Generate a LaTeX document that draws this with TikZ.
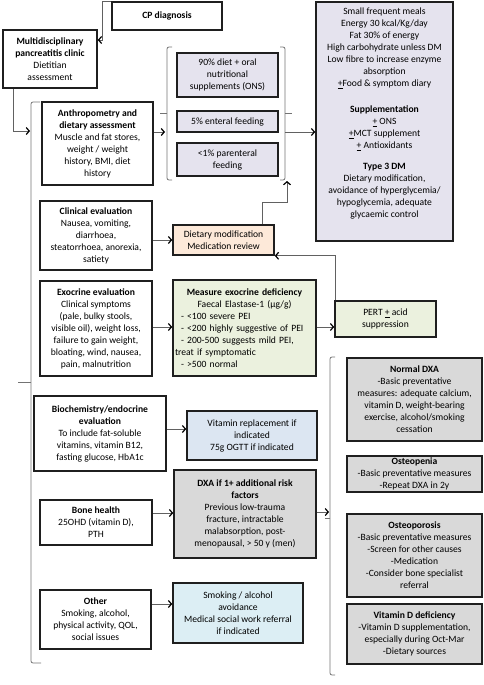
\documentclass[tikz,border=0pt]{standalone}
\usepackage{fontspec}
\setmainfont{Carlito}
\usetikzlibrary{arrows.meta}

\definecolor{lavfill}{HTML}{E5E3EE}
\definecolor{peachfill}{HTML}{FDE9D9}
\definecolor{greenfill}{HTML}{EBF1DE}
\definecolor{bluefill}{HTML}{DCE6F2}
\definecolor{greyfill}{HTML}{D9D9D9}
\definecolor{skyfill}{HTML}{DCEEF4}

\begin{document}
\begin{tikzpicture}[x=1pt,y=-1pt,
    panel/.style={draw=black!88, line width=1.6pt, align=center, inner sep=1.5pt,
        font=\fontsize{9.6}{12}\selectfont},
    link/.style={draw=black!62, line width=0.9pt,
        -{Straight Barb[length=3pt,width=7pt,line width=1.2pt,color=black]}},
    brk/.style={draw=black!55, line width=0.8pt, rounded corners=2pt}]

    % Fix the page to the size of the reference
    \useasboundingbox (0,0) rectangle (483,685);

    % Diagnosis and clinic
    \node[panel, minimum width=110pt, minimum height=28pt] (cp) at (167,16) {\textbf{CP diagnosis}};
    \node[panel, minimum width=94pt, minimum height=58pt] (clinic) at (50,59)
        {\textbf{Multidisciplinary}\\\textbf{pancreatitis clinic}\\Dietitian\\assessment};

    % Assessment column
    \node[panel, minimum width=111pt, minimum height=83pt] (anthro) at (97.5,143.5)
        {\textbf{Anthropometry and}\\\textbf{dietary assessment}\\Muscle and fat stores,\\weight / weight\\history, BMI, diet\\history};
    \node[panel, minimum width=112pt, minimum height=69pt] (clin) at (96,235.5)
        {\textbf{Clinical evaluation}\\Nausea, vomiting,\\diarrhoea,\\steatorrhoea, anorexia,\\satiety};
    \node[panel, minimum width=112pt, minimum height=95pt] (exo) at (96,328.5)
        {\textbf{Exocrine evaluation}\\Clinical symptoms\\(pale, bulky stools,\\visible oil), weight loss,\\failure to gain weight,\\bloating, wind, nausea,\\pain, malnutrition};
    \node[panel, minimum width=132pt, minimum height=75pt] (bio) at (100,433.5)
        {\textbf{Biochemistry/endocrine}\\\textbf{evaluation}\\To include fat-soluble\\vitamins, vitamin B12,\\fasting glucose, HbA1c};
    \node[panel, minimum width=112pt, minimum height=45pt] (bone) at (96,522.5)
        {\textbf{Bone health}\\25OHD (vitamin D),\\PTH};
    \node[panel, minimum width=111pt, minimum height=59pt] (other) at (95.5,619.5)
        {\textbf{Other}\\Smoking, alcohol,\\physical activity, QOL,\\social issues};

    % Feeding routes
    \node[panel, fill=lavfill, minimum width=101pt, minimum height=44pt] (ons) at (227.5,75)
        {90\% diet + oral\\nutritional\\supplements (ONS)};
    \node[panel, fill=lavfill, minimum width=101pt, minimum height=21pt] (ent) at (227.5,121.5)
        {5\% enteral feeding};
    \node[panel, fill=lavfill, minimum width=101pt, minimum height=33pt] (par) at (227.5,159.5)
        {<1\% parenteral\\feeding};

    % Dietary advice
    \node[panel, fill=lavfill, minimum width=137pt, minimum height=239pt] (diet) at (384.5,121.5)
        {Small frequent meals\\Energy 30 kcal/Kg/day\\Fat 30\% of energy\\High carbohydrate unless DM\\Low fibre to increase enzyme\\absorption\\\underline{+}Food \& symptom diary\\[14pt]
         \textbf{Supplementation}\\\underline{+} ONS\\\underline{+}MCT supplement\\\underline{+} Antioxidants\\[9pt]
         \textbf{Type 3 DM}\\Dietary modification,\\avoidance of hyperglycemia/\\hypoglycemia, adequate\\glycaemic control\\[6pt]~};

    % Outcomes of the assessments
    \node[panel, fill=peachfill, minimum width=101pt, minimum height=30pt] (mod) at (223.5,240)
        {Dietary modification\\Medication review};
    \node[panel, fill=greenfill, minimum width=143pt, minimum height=96pt, text width=139pt, align=left] (fe) at (244.5,328)
        {{\centering\textbf{Measure exocrine deficiency}\\Faecal Elastase-1 (µg/g)\par}
         \hspace*{6pt}- <100 severe PEI\\\hspace*{6pt}- <200 highly suggestive of PEI\\\hspace*{6pt}- 200-500 suggests mild PEI,\\treat if symptomatic\\\hspace*{6pt}- >500 normal};
    \node[panel, fill=greenfill, minimum width=101pt, minimum height=36pt] (pert) at (385.5,319)
        {PERT \underline{+} acid\\suppression};
    \node[panel, fill=bluefill, minimum width=130pt, minimum height=49pt] (vit) at (252,435.5)
        {Vitamin replacement if\\indicated\\75g OGTT if indicated};
    \node[panel, fill=greyfill, minimum width=142pt, minimum height=88pt] (dxa) at (245,514)
        {\textbf{DXA if 1+ additional risk}\\\textbf{factors}\\Previous low-trauma\\fracture, intractable\\malabsorption, post-\\menopausal, > 50 y (men)};
    \node[panel, fill=skyfill, minimum width=130pt, minimum height=60pt] (smk) at (238,613)
        {Smoking / alcohol\\avoidance\\Medical social work referral\\if indicated};

    % Bone results
    \node[panel, fill=greyfill, minimum width=135pt, minimum height=83pt] (ndxa) at (414.5,399.5)
        {\textbf{Normal DXA}\\-Basic preventative\\measures: adequate calcium,\\vitamin D, weight-bearing\\exercise, alcohol/smoking\\cessation};
    \node[panel, fill=greyfill, minimum width=135pt, minimum height=36pt] (open) at (414.5,474)
        {\textbf{Osteopenia}\\-Basic preventative measures\\-Repeat DXA in 2y};
    \node[panel, fill=greyfill, minimum width=135pt, minimum height=83pt] (opor) at (414.5,555.5)
        {\textbf{Osteoporosis}\\-Basic preventative measures\\-Screen for other causes\\-Medication\\-Consider bone specialist\\referral};
    \node[panel, fill=greyfill, minimum width=135pt, minimum height=60pt] (vitd) at (414.5,634)
        {\textbf{Vitamin D deficiency}\\-Vitamin D supplementation,\\especially during Oct-Mar\\-Dietary sources};

    % Brackets
    \draw[brk] (40,102) -- (31,102) -- (31,663) -- (41,663);
    \draw[brk] (31,382) -- (18,382);
    \draw[brk] (172,47) -- (167,47) -- (167,180) -- (172,180);
    \draw[brk] (167,113) -- (160,113);
    \draw[brk] (280,47) -- (285,47) -- (285,180) -- (280,180);
    \draw[brk] (285,113) -- (292,113);
    \draw[brk] (335,357) -- (330,357) -- (330,675) -- (335,675);
    \draw[brk] (330,518) -- (325,518);

    % Ends of the connectors at the brackets
    \coordinate (lin) at (30,131);
    \coordinate (fin) at (165,132);
    \coordinate (fout) at (285,132);
    \coordinate (fbot) at (287,181);
    \coordinate (rin) at (329,512);

    % Connectors
    \draw[link] (cp.north west) -- ++(-9,0) |- (clinic.east |- 0,40);
    \draw[link] ([xshift=11pt]clinic.south west) |- (lin);
    \draw[link] (anthro.east |- fin) -- (fin);
    \draw[link] (fout) -- (diet.west |- fout);
    \draw[link] ([xshift=38.5pt]mod.north) -- ++(0,-22) -| (fbot);
    \draw[link] (clin.east |- mod.west) -- (mod.west);
    \draw[link] ([xshift=1pt]pert.north west) |- (mod.south east);
    \draw[link] (exo.east |- 0,327) -- (fe.west |- 0,327);
    \draw[link] (fe.east |- 0,327) -- (pert.west |- 0,327);
    \draw[link] (bio.east |- 0,429) -- (vit.west |- 0,429);
    \draw[link] (bone.east |- 0,513) -- (dxa.west |- 0,513);
    \draw[link] (dxa.east |- rin) -- (rin);
    \draw[link] (other.east |- 0,604) -- (smk.west |- 0,604);

\end{tikzpicture}
\end{document}
